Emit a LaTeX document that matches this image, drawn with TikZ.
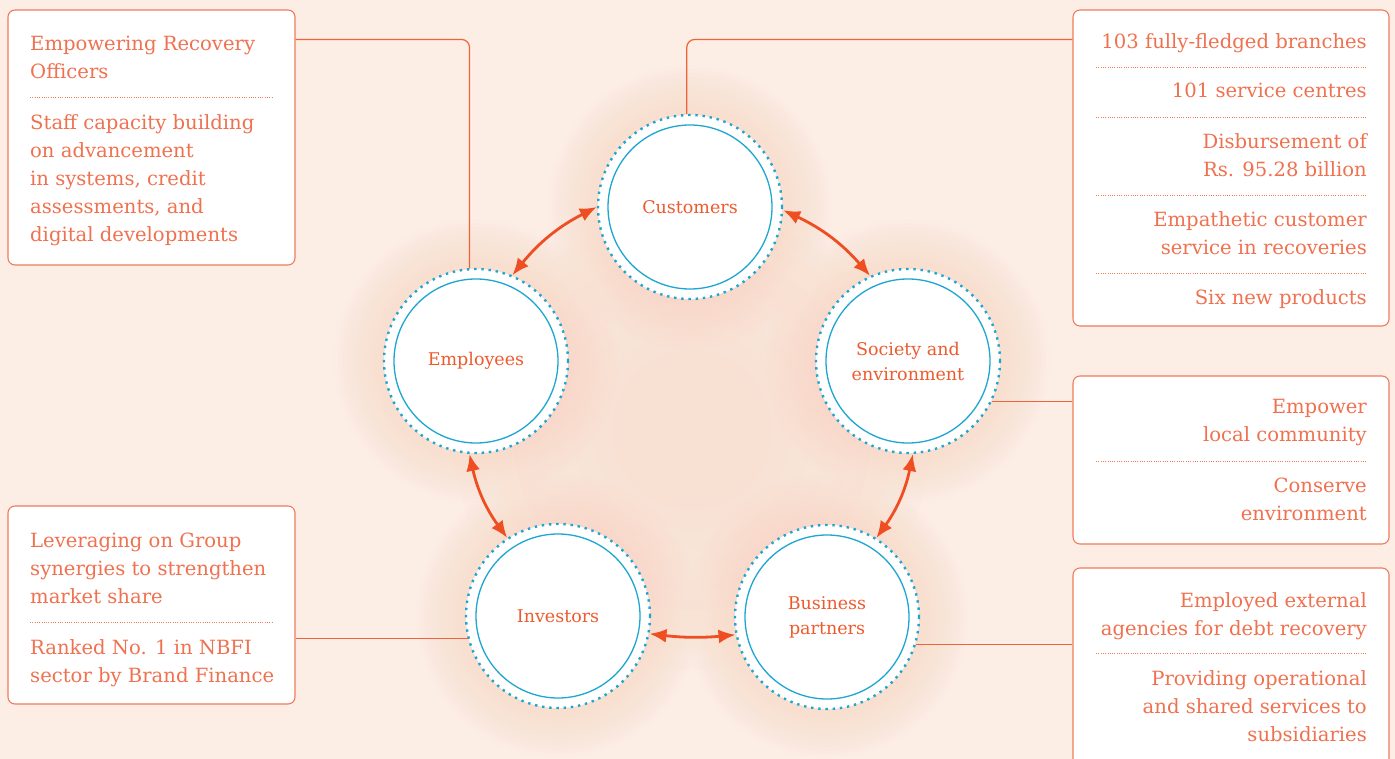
\documentclass[tikz,border=0pt]{standalone}
\usepackage{fontspec}
\setmainfont{DejaVu Serif}
\usetikzlibrary{arrows.meta, positioning, backgrounds, calc}
\definecolor{pagebg}{HTML}{FDEEE5}
\definecolor{glowpeach}{HTML}{F8CDB8}
\definecolor{boxline}{HTML}{F07B5C}
\definecolor{linkred}{HTML}{F0623A}
\definecolor{textorange}{HTML}{F0714F}
\definecolor{labelorange}{HTML}{EC5B2E}
\definecolor{arrowred}{HTML}{EE4E22}
\definecolor{ringblue}{HTML}{1DA7D0}
\tikzset{
  stakeholder/.style={circle, minimum size=184pt, inner sep=0pt, fill=white, draw=ringblue,
    line width=2.4pt, dash pattern=on 2.4pt off 4.8pt, text=labelorange,
    font=\fontsize{17.5}{25}\selectfont, align=center},
  innerring/.style={draw=ringblue, line width=1.3pt},
  infobox/.style={rectangle, rounded corners=7pt, draw=boxline, line width=1.1pt, fill=white},
  infotext/.style={inner sep=0pt, text=textorange, font=\fontsize{19.6}{28}\selectfont},
  sepline/.style={draw=boxline, line width=0.9pt, dash pattern=on 1pt off 1.3pt},
  link/.style={draw=linkred, line width=1.2pt, rounded corners=8pt},
  exchange/.style={draw=arrowred, line width=2.8pt, {Latex[length=17pt,width=14pt]}-{Latex[length=17pt,width=14pt]}},
}

\begin{document}
\begin{tikzpicture}[x=1pt, y=-1pt]
\useasboundingbox (0,0) rectangle (1395,759);

% Stakeholder circles
\node (cust) [stakeholder] at (690,207) {Customers};
\node (emp) [stakeholder] at (476,361) {Employees};
\node (soc) [stakeholder] at (908,361) {Society and\\environment};
\node (inv) [stakeholder] at (558,616) {Investors};
\node (bus) [stakeholder] at (827,617) {Business\\partners};
\foreach \c in {cust, emp, soc, inv, bus}
  \draw[innerring] (\c.center) circle (82);

% Info boxes
\node (empbox) [infobox, minimum width=287pt, minimum height=255pt] at (151.5,137.5) {};
\node (custbox) [infobox, minimum width=316pt, minimum height=316pt] at (1231,168) {};
\node (socbox) [infobox, minimum width=316pt, minimum height=168pt] at (1231,460) {};
\node (invbox) [infobox, minimum width=287pt, minimum height=198pt] at (151.5,605) {};
\node (busbox) [infobox, minimum width=316pt, minimum height=214pt] at (1231,675) {};

% Box texts, left side
\node (emp1) [infotext, anchor=north west, align=left] at (30,36) {Empowering Recovery\\Officers};
\node (emp2) [infotext, anchor=north west, align=left] at (30,114) {Staff capacity building\\on advancement\\in systems, credit\\assessments, and\\digital developments};
\node (inv1) [infotext, anchor=north west, align=left] at (30,533) {Leveraging on Group\\synergies to strengthen\\market share};
\node (inv2) [infotext, anchor=north west, align=left] at (30,639) {Ranked No. 1 in NBFI\\sector by Brand Finance};

% Box texts, right side
\node (cust1) [infotext, anchor=north east, align=right] at (1367,33) {103 fully-fledged branches};
\node (cust2) [infotext, anchor=north east, align=right] at (1367,83) {101 service centres};
\node (cust3) [infotext, anchor=north east, align=right] at (1367,133) {Disbursement of\\Rs. 95.28 billion};
\node (cust4) [infotext, anchor=north east, align=right] at (1367,211) {Empathetic customer\\service in recoveries};
\node (cust5) [infotext, anchor=north east, align=right] at (1367,289) {Six new products};
\node (soc1) [infotext, anchor=north east, align=right] at (1367,399) {Empower\\local community};
\node (soc2) [infotext, anchor=north east, align=right] at (1367,478) {Conserve\\environment};
\node (bus1) [infotext, anchor=north east, align=right] at (1367,592) {Employed external\\agencies for debt recovery};
\node (bus2) [infotext, anchor=north east, align=right] at (1367,670) {Providing operational\\and shared services to\\subsidiaries};

% Dotted separators
\foreach \y in {97} \draw[sepline] (30,\y) -- (273,\y);
\foreach \y in {622} \draw[sepline] (30,\y) -- (273,\y);
\foreach \y in {67,117,195,273,461,653} \draw[sepline] (1096,\y) -- (1367,\y);

% Links from circles to boxes
\draw[link] ([yshift=-30pt]empbox.north east) -| (emp.94);
\draw[link] (cust.92) |- ([yshift=-30pt]custbox.north west);
\draw[link] (soc.-26) -- (soc.-26 -| socbox.west);
\draw[link] (invbox.east |- inv.194) -- (inv.194);
\draw[link] (bus.-17) -- (bus.-17 -| busbox.west);

% Two-way arrows between stakeholders
\draw[exchange] (cust.180) to[bend right=12] (emp.67);
\draw[exchange] (cust.-2) to[bend left=12] (soc.114);
\draw[exchange] (emp.266) to[bend right=12] (inv.123);
\draw[exchange] (soc.-87) to[bend left=12] (bus.58);
\draw[exchange] (inv.-11) to[bend right=6] (bus.191);

% Background and glow
\begin{scope}[on background layer]
  \fill[pagebg] (0,0) rectangle (1395,759);
  \foreach \r in {80,100,...,240}
    \fill[glowpeach, opacity=0.04] (692,430) circle (\r);
  \foreach \c in {cust, emp, soc, inv, bus}
    \foreach \r in {94,98,...,142}
      \fill[glowpeach, opacity=0.035] (\c.center) circle (\r);
\end{scope}
\end{tikzpicture}
\end{document}
